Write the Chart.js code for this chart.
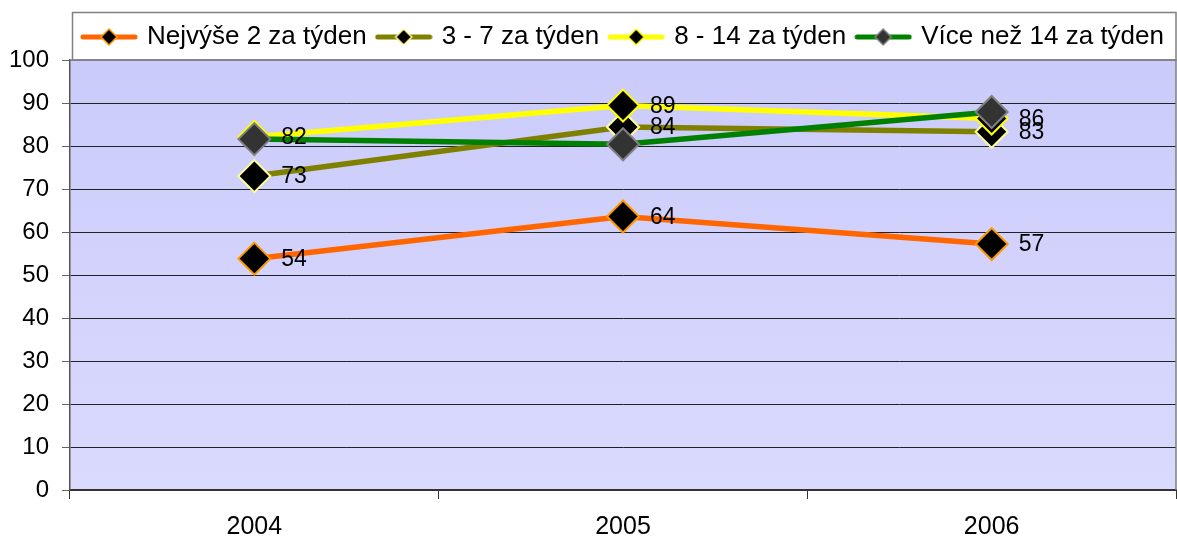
<!DOCTYPE html>
<html>
<head>
    <title>Frekvence</title>
    <script src="https://cdn.jsdelivr.net/npm/chart.js"></script>
    <style>
        html, body { margin: 0; padding: 0; background: #fff; overflow: hidden; }
        #wrap { width: 1177px; height: 540px; position: relative; }
        canvas { display: block; }
    </style>
</head>
<body>
    <div id="wrap"><canvas id="chart"></canvas></div>

    <script>
        const years = ['2004', '2005', '2006'];
        const seriesNames = ['Nejvýše 2 za týden', '3 - 7 za týden', '8 - 14 za týden', 'Více než 14 za týden'];
        const upTo2 = [53.8, 63.6, 57.2];
        const from3to7 = [73.0, 84.4, 83.3];
        const from8to14 = [82.1, 89.4, 86.4];
        const over14 = [81.6, 80.4, 87.9];
        const yTicks = [0, 10, 20, 30, 40, 50, 60, 70, 80, 90, 100];

        const FONT = '"Liberation Sans", Arial, sans-serif';

        // line + diamond legend symbol
        function legendSymbol(lineColor, fill, border) {
            const c = document.createElement('canvas');
            c.width = 58; c.height = 22;
            const g = c.getContext('2d');
            g.strokeStyle = lineColor;
            g.lineWidth = 5;
            g.lineCap = 'round';
            g.beginPath(); g.moveTo(3, 11); g.lineTo(55, 11); g.stroke();
            g.beginPath();
            g.moveTo(29, 3); g.lineTo(37, 11); g.lineTo(29, 19); g.lineTo(21, 11); g.closePath();
            g.fillStyle = fill; g.fill();
            g.lineWidth = 1.5; g.strokeStyle = border; g.stroke();
            return c;
        }

        const styles = [
            { line: '#FF6600', fill: '#000000', border: '#FF9900' },
            { line: '#808000', fill: '#000000', border: '#FFFF99' },
            { line: '#FFFF00', fill: '#000000', border: '#FFFF00' },
            { line: '#008000', fill: '#333333', border: '#808080' }
        ];
        const symbols = styles.map(s => legendSymbol(s.line, s.fill, s.border));

        function makeSet(i, data) {
            const s = styles[i];
            return {
                label: seriesNames[i],
                data: data,
                borderColor: s.line,
                borderWidth: 5.5,
                tension: 0,
                pointStyle: 'rectRot',
                pointRadius: 16,
                pointHoverRadius: 16,
                pointBackgroundColor: s.fill,
                pointBorderColor: s.border,
                pointBorderWidth: 2,
                order: 4 - i
            };
        }

        const frame = {
            id: 'frame',
            beforeDraw(chart) {
                const ctx = chart.ctx;
                const a = chart.chartArea;
                ctx.save();
                const grad = ctx.createLinearGradient(0, a.top, 0, a.bottom);
                grad.addColorStop(0, '#CBCBFB');
                grad.addColorStop(1, '#DADAFE');
                ctx.fillStyle = grad;
                ctx.fillRect(a.left, a.top, a.right - a.left, a.bottom - a.top);
                // legend box
                ctx.fillStyle = '#fff';
                ctx.fillRect(72, 12, a.right - 72, a.top - 12);
                ctx.strokeStyle = '#808080';
                ctx.lineWidth = 1.5;
                ctx.strokeRect(72.5, 12.5, a.right - 72.5, a.top - 12.5);
                ctx.restore();
            },
            beforeDatasetsDraw(chart) {
                const ctx = chart.ctx;
                const a = chart.chartArea;
                ctx.save();
                ctx.strokeStyle = '#808080';
                ctx.lineWidth = 1.5;
                ctx.beginPath();
                ctx.moveTo(a.left, a.top); ctx.lineTo(a.right, a.top); ctx.lineTo(a.right, a.bottom);
                ctx.stroke();
                ctx.restore();
            }
        };

        const valueLabels = {
            id: 'valueLabels',
            afterDatasetsDraw(chart) {
                const ctx = chart.ctx;
                ctx.save();
                ctx.font = '23px ' + FONT;
                ctx.fillStyle = '#000';
                ctx.textAlign = 'left';
                ctx.textBaseline = 'middle';
                [0, 1, 2].forEach(di => {
                    const meta = chart.getDatasetMeta(di);
                    meta.data.forEach((pt, j) => {
                        const v = chart.data.datasets[di].data[j];
                        ctx.fillText(String(Math.round(v)), pt.x + 27, pt.y + 1);
                    });
                });
                ctx.restore();
            }
        };

        new Chart(document.getElementById('chart'), {
            type: 'line',
            data: {
                labels: years,
                datasets: [
                    makeSet(0, upTo2),
                    makeSet(1, from3to7),
                    makeSet(2, from8to14),
                    makeSet(3, over14)
                ]
            },
            options: {
                responsive: true,
                maintainAspectRatio: false,
                animation: false,
                events: [],
                layout: { autoPadding: false, padding: { top: 12, right: 1, left: 0, bottom: 0 } },
                plugins: {
                    tooltip: { enabled: false },
                    legend: {
                        position: 'top',
                        align: 'end',
                        labels: {
                            usePointStyle: true,
                            pointStyleWidth: 50,
                            padding: 12,
                            color: '#000',
                            font: { family: FONT, size: 26 },
                            sort: (a, b) => a.datasetIndex - b.datasetIndex,
                            generateLabels(chart) {
                                const items = Chart.defaults.plugins.legend.labels.generateLabels(chart);
                                items.forEach(it => { it.pointStyle = symbols[it.datasetIndex]; });
                                return items;
                            }
                        }
                    }
                },
                scales: {
                    x: {
                        offset: true,
                        afterFit(scale) { scale.height = 50; },
                        grid: {
                            offset: true,
                            drawOnChartArea: false,
                            drawTicks: true,
                            tickLength: 9,
                            tickColor: '#333'
                        },
                        border: { color: '#333', width: 2 },
                        ticks: {
                            color: '#000',
                            padding: 13,
                            font: { family: FONT, size: 25 },
                            maxRotation: 0
                        }
                    },
                    y: {
                        min: 0,
                        max: 100,
                        afterFit(scale) { scale.width = 70; },
                        afterBuildTicks(scale) { scale.ticks = yTicks.map(v => ({ value: v })); },
                        grid: {
                            color: ctx => ctx.tick && ctx.tick.value === 100 ? '#808080' : '#222',
                            lineWidth: 1,
                            tickLength: 8,
                            tickColor: '#666'
                        },
                        border: { color: '#555', width: 1.5 },
                        ticks: {
                            color: '#000',
                            padding: 13,
                            font: { family: FONT, size: 24 }
                        }
                    }
                }
            },
            plugins: [frame, valueLabels]
        });
    </script>
</body>
</html>
